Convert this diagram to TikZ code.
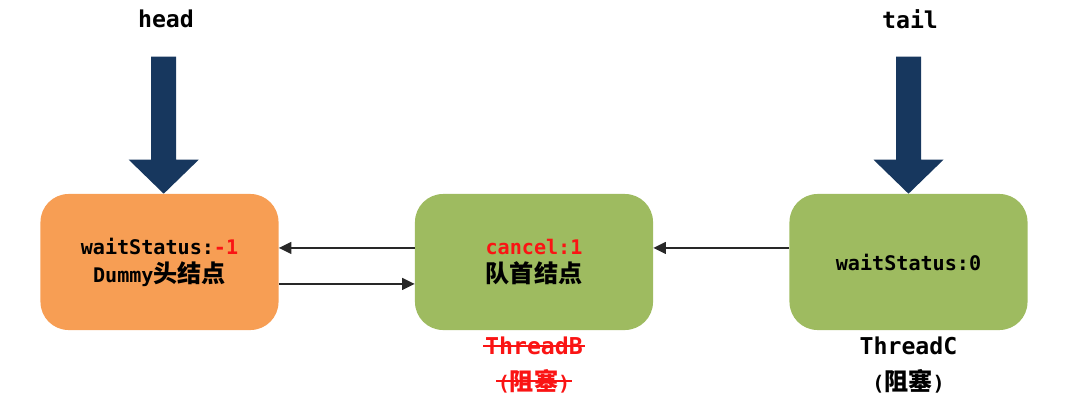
\documentclass[tikz,border=0pt]{standalone}
\usepackage{fontspec}
\setmainfont{DejaVu Sans Mono}
\newfontfamily\cjk[Scale=1.2]{Noto Sans CJK SC}
\usetikzlibrary{arrows.meta,positioning}

\begin{document}
\begin{tikzpicture}[x=0.025cm,y=-0.025cm,line join=round,
		box/.style={rectangle,rounded corners=20pt,minimum width=5.95cm,minimum height=3.4cm,inner sep=0pt,align=center,font=\fontsize{14.3}{20}\selectfont\bfseries},
		link/.style={-{Triangle[length=9pt,width=8.5pt]},line width=1pt,color=linegray},
		tag/.style={font=\fontsize{16.5}{20}\selectfont\bfseries},
		thread/.style={inner sep=1pt,font=\fontsize{16.5}{20}\selectfont\bfseries},
		blocked/.style={inner sep=1pt,font=\fontsize{14.3}{20}\selectfont\bfseries}]
	\definecolor{officeorange}{RGB}{247,158,84}
	\definecolor{officegreen}{RGB}{158,187,96}
	\definecolor{navy}{RGB}{23,55,94}
	\definecolor{linegray}{RGB}{40,40,40}
	\definecolor{alarm}{RGB}{250,20,20}
	\useasboundingbox (0,0) rectangle (1067,407);
	
	\tikzset{pointer/.pic={%mũi tên lớn
			\fill[navy] (0,0)--(-35,-34)--(-12.5,-34)--(-12.5,-137)--(12.5,-137)--(12.5,-34)--(35,-34)--cycle;
	}}
	%%%%%%%%%%%%%%%%%%%%%%%%%%%%
	\node[box,fill=officeorange] (dummy) at (159.5,262) {waitStatus:{\color{alarm}-1}\\Dummy{\cjk 头结点}};
	\node[box,fill=officegreen] (first) at (534,262) {{\color{alarm}cancel:1}\\{\cjk 队首结点}};
	\node[box,fill=officegreen] (last) at (908.5,262) {waitStatus:0};
	
	\node[tag] (head) at (166,19) {head};
	\node[tag] (tail) at (910,19) {tail};
	\path ([xshift=3pt]dummy.north) pic{pointer};
	\path (last.north) pic{pointer};
	
	\draw[link] ([yshift=10pt]first.west) -- ([yshift=10pt]dummy.east);
	\draw[link] ([yshift=-15.6pt]dummy.east) -- ([yshift=-15.6pt]first.west);
	\draw[link] ([yshift=10pt]last.west) -- ([yshift=10pt]first.east);
	
	\node[thread,alarm] (threadB) at (first.south |- 0,346) {ThreadB};
	\node[blocked,alarm] (blockB) at (first.south |- 0,381) {({\cjk 阻塞})};
	\draw[alarm,line width=1.2pt] (threadB.west) -- (threadB.east); %gạch bỏ
	\draw[alarm,line width=1.2pt] (blockB.west) -- (blockB.east);
	\node[thread] (threadC) at (last.south |- 0,346) {ThreadC};
	\node[blocked] (blockC) at (last.south |- 0,381) {({\cjk 阻塞})};
\end{tikzpicture}
\end{document}
